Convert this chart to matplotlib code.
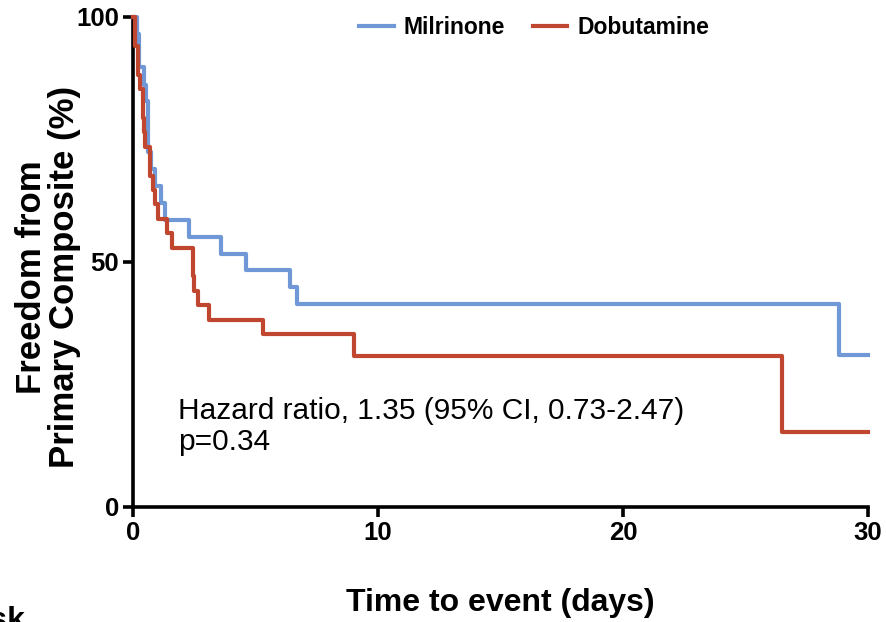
import matplotlib
matplotlib.use("Agg")
import matplotlib.pyplot as plt

# Kaplan-Meier step data (time in days, survival %)
milrinone_t = [0, 0.15, 0.25, 0.45, 0.55, 0.6, 0.73, 0.9, 1.14, 1.3, 2.3, 3.6, 4.6, 6.4, 6.7, 28.8, 30]
milrinone_s = [100, 96.6, 89.7, 86.2, 82.8, 72.4, 69.0, 65.5, 62.1, 58.6, 55.2, 51.7, 48.3, 44.8, 41.4, 31.0, 31.0]

dobutamine_t = [0, 0.1, 0.2, 0.3, 0.4, 0.45, 0.5, 0.7, 0.8, 0.9, 1.0, 1.37, 1.58, 2.43, 2.47, 2.67, 3.11, 5.29, 9.02, 26.5, 30]
dobutamine_s = [100, 94.1, 88.2, 85.3, 79.4, 76.5, 73.5, 67.6, 64.7, 61.8, 58.8, 55.9, 52.9, 47.1, 44.1, 41.2, 38.2, 35.3, 30.9, 15.4, 15.4]

series_names = ["Milrinone", "Dobutamine"]
x_ticks = [0, 10, 20, 30]
y_ticks = [0, 50, 100]

blue = "#7097d6"
red = "#c1462f"

plt.rcParams['font.family'] = ['Liberation Sans', 'DejaVu Sans']

fig = plt.figure(figsize=(8.86, 6.22), dpi=100)
ax = fig.add_axes([133/886, 1-507/622, (868-133)/886, (507-17)/622])

ax.step(milrinone_t, milrinone_s, where='post', color=blue, lw=3, label=series_names[0], clip_on=False, zorder=3)
ax.step(dobutamine_t, dobutamine_s, where='post', color=red, lw=3, label=series_names[1], clip_on=False, zorder=3)

ax.set_xlim(0, 30)
ax.set_ylim(0, 100)
ax.set_xticks(x_ticks)
ax.set_yticks(y_ticks)
for s in ['top', 'right']:
    ax.spines[s].set_visible(False)
for s in ['left', 'bottom']:
    ax.spines[s].set_linewidth(2.6)
ax.tick_params(axis='both', width=2.6, length=7, direction='out', labelsize=18.5, pad=3)
for lab in ax.get_xticklabels() + ax.get_yticklabels():
    lab.set_fontweight('bold')

ax.set_xlabel("Time to event (days)", fontsize=23, fontweight='bold', labelpad=31)
fig.text(48/886, 1-277/622, "Freedom from\nPrimary Composite (%)", fontsize=25, fontweight='bold',
         rotation=90, ha='center', va='center', multialignment='center', linespacing=1.0)

ax.text(1.85, 22.5, "Hazard ratio, 1.35 (95% CI, 0.73-2.47)\np=0.34", fontsize=21.5, va='top', ha='left', linespacing=1.15)

leg = ax.legend(loc='upper center', bbox_to_anchor=(0.546, 1.045), ncol=2, frameon=False,
                prop={'weight': 'bold', 'size': 16.5}, handlelength=1.5, handletextpad=0.45, columnspacing=1.2)

fig.text(25/886, 1-606/622, "Number at risk", fontsize=23, fontweight='bold', ha='right', va='top')

fig.savefig("out.png", dpi=100)
